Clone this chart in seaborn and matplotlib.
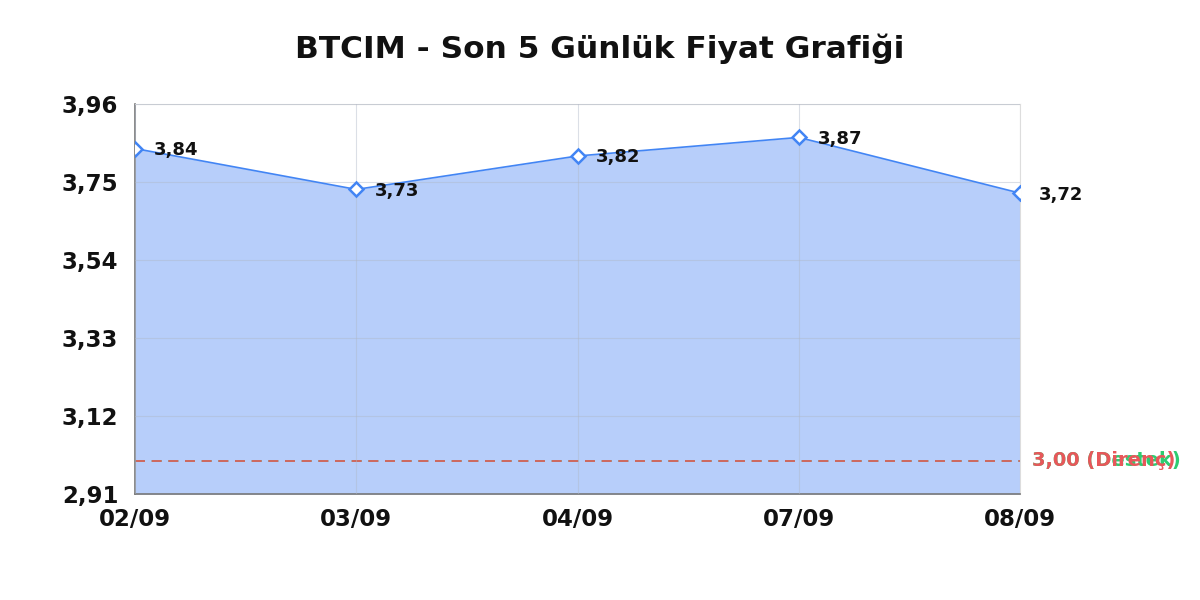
import matplotlib
matplotlib.use("Agg")
import matplotlib.pyplot as plt
import seaborn as sns
import pandas as pd
import numpy as np

dates = ["02/09", "03/09", "04/09", "07/09", "08/09"]
prices = [3.84, 3.73, 3.82, 3.87, 3.72]
support = 3.00
resistance = 3.00
y_ticks = [2.91, 3.12, 3.33, 3.54, 3.75, 3.96]
title = "BTCIM - Son 5 Günlük Fiyat Grafiği"

sns.set_theme(style="whitegrid")
plt.rcParams['font.family'] = ['DejaVu Sans']

df = pd.DataFrame({"x": np.arange(len(dates)), "price": prices})

fig = plt.figure(figsize=(12, 6), dpi=100)
ax = fig.add_axes([0.1125, 0.1767, 0.7375, 0.65])

line_color = "#4285f4"
ax.fill_between(df["x"], prices, y_ticks[0], color="#b7cefa", zorder=1, linewidth=0)
sns.lineplot(data=df, x="x", y="price", ax=ax, color=line_color, linewidth=1.2,
             marker="D", markersize=7, markerfacecolor="white",
             markeredgecolor=line_color, markeredgewidth=1.8, zorder=3)

def fmt(v):
    return f"{v:.2f}".replace(".", ",")

for xi, v in zip(df["x"], prices):
    ax.annotate(fmt(v), (xi, v), xytext=(13.5, -1), textcoords="offset points",
                fontsize=13, fontweight="bold", color="#111111", va="center", ha="left",
                zorder=4, annotation_clip=False)

ax.axhline(support, color="#2ecc71", linestyle=(0, (6, 4)), linewidth=1.2, zorder=2)
ax.axhline(resistance, color="#e8575a", linestyle=(0, (6, 4)), linewidth=1.2, zorder=2)
ax.annotate(f"{fmt(support)} (Destek)", (1.0, support), xycoords=("axes fraction", "data"),
            xytext=(9, 0), textcoords="offset points", color="#2ecc71",
            fontsize=14, fontweight="bold", va="center", ha="left", annotation_clip=False)
ax.annotate(f"{fmt(resistance)} (Direnç)", (1.0, resistance), xycoords=("axes fraction", "data"),
            xytext=(9, 0), textcoords="offset points", color="#e8575a",
            fontsize=14, fontweight="bold", va="center", ha="left", annotation_clip=False)

ax.set_xlim(0, len(dates) - 1)
ax.set_ylim(y_ticks[0], y_ticks[-1])
ax.set_yticks(y_ticks)
ax.set_yticklabels([fmt(t) for t in y_ticks])
ax.set_xticks(df["x"])
ax.set_xticklabels(dates)
ax.set_xlabel("")
ax.set_ylabel("")
ax.tick_params(axis="y", labelsize=16.5, pad=12, length=0)
ax.tick_params(axis="x", labelsize=16.5, pad=10, length=0)
for lab in ax.get_xticklabels() + ax.get_yticklabels():
    lab.set_fontweight("bold")
    lab.set_color("#111111")

ax.set_axisbelow(False)
ax.grid(True, color="#b0b8c8", linewidth=0.8, alpha=0.45, zorder=2)
ax.set_facecolor("white")
for side in ["top", "right"]:
    ax.spines[side].set_color("#dddddd")
    ax.spines[side].set_linewidth(0.8)
for side in ["left", "bottom"]:
    ax.spines[side].set_color("#777777")
    ax.spines[side].set_linewidth(1.2)

fig.suptitle(title, fontsize=22.5, fontweight="bold", y=0.945, x=0.5, color="#111111")

fig.savefig("out.png", dpi=100)
